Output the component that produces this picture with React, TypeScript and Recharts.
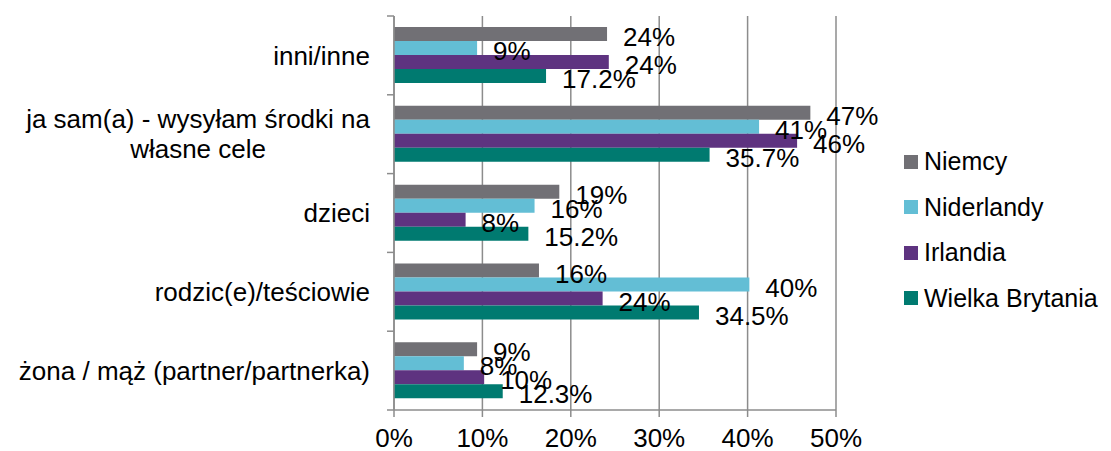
import React from "react";
import {
  BarChart,
  Bar,
  XAxis,
  YAxis,
  CartesianGrid,
  Legend,
  LabelList,
} from "recharts";

const categories = [
  "inni/inne",
  "ja sam(a) - wysyłam środki na własne cele",
  "dzieci",
  "rodzic(e)/teściowie",
  "żona / mąż (partner/partnerka)",
];
const niemcy = [24.1, 47.1, 18.7, 16.4, 9.4];
const niderlandy = [9.4, 41.3, 15.9, 40.2, 7.9];
const irlandia = [24.3, 45.6, 8.1, 23.6, 10.2];
const wielkaBrytania = [17.2, 35.7, 15.2, 34.5, 12.3];
const xTicks = [0, 10, 20, 30, 40, 50];

const seriesNames = ["Niemcy", "Niderlandy", "Irlandia", "Wielka Brytania"];
const colors = ["#717075", "#63bed5", "#5e3380", "#007a70"];

const data = categories.map((name, i) => ({
  name,
  Niemcy: niemcy[i],
  Niderlandy: niderlandy[i],
  Irlandia: irlandia[i],
  "Wielka Brytania": wielkaBrytania[i],
}));

const FONT = '"Liberation Sans", Arial, sans-serif';
const FS = 26;
const W = 1103;
const H = 443;
const AXIS_X = 386;
const PLOT_RIGHT = 828;
const TOP = 8;
const XAXIS_H = 41;
const BAND = (H - TOP - XAXIS_H) / categories.length;
const GRAY = "#8c8c8c";
const LEGEND_LEFT = 896;
const LEGEND_W = W - LEGEND_LEFT;

let ctx: CanvasRenderingContext2D | null = null;
const measure = (s: string) => {
  if (!ctx) {
    ctx = document.createElement("canvas").getContext("2d");
    if (ctx) ctx.font = `${FS}px ${FONT}`;
  }
  return ctx ? ctx.measureText(s).width : s.length * FS * 0.5;
};

const wrap = (s: string, max = 375) => {
  const words = s.split(" ");
  const lines: string[] = [];
  let cur = "";
  words.forEach((w) => {
    const next = cur ? cur + " " + w : w;
    if (cur && measure(next) > max) {
      lines.push(cur);
      cur = w;
    } else cur = next;
  });
  if (cur) lines.push(cur);
  return lines;
};

const CategoryTick = (props: any) => {
  const { y, payload, index } = props;
  const lines = wrap(payload.value);
  const maxW = Math.max(...lines.map(measure));
  const cx = AXIS_X - 24 - maxW / 2;
  const lh = 30;
  const y0 = y - ((lines.length - 1) * lh) / 2;
  return (
    <g>
      {lines.map((l, i) => (
        <text
          key={i}
          x={cx}
          y={y0 + i * lh}
          dy="0.35em"
          textAnchor="middle"
          fontSize={FS}
          fontFamily={FONT}
          fill="#000"
        >
          {l}
        </text>
      ))}
      <line x1={AXIS_X - 7} x2={AXIS_X} y1={y - BAND / 2} y2={y - BAND / 2} stroke={GRAY} strokeWidth={1.5} />
      {index === categories.length - 1 && (
        <line x1={AXIS_X - 7} x2={AXIS_X} y1={y + BAND / 2} y2={y + BAND / 2} stroke={GRAY} strokeWidth={1.5} />
      )}
    </g>
  );
};

const LegendContent = () => (
  <div style={{ fontFamily: FONT, fontSize: 25, color: "#000", whiteSpace: "nowrap" }}>
    {seriesNames.map((s, i) => (
      <div key={s} style={{ height: 45.5, display: "flex", alignItems: "center" }}>
        <span
          style={{
            width: 14,
            height: 14,
            flexShrink: 0,
            background: colors[i],
            marginRight: 6,
            display: "inline-block",
          }}
        />
        <span>{s}</span>
      </div>
    ))}
  </div>
);

const labelStyle = { fontSize: FS, fill: "#000", fontFamily: FONT };

export default function App() {
  return (
    <BarChart
      width={W}
      height={H}
      data={data}
      layout="vertical"
      margin={{ top: TOP, right: W - PLOT_RIGHT - LEGEND_W, left: 0, bottom: 0 }}
      barCategoryGap="14%"
      barGap={0}
    >
      <CartesianGrid horizontal={false} stroke={GRAY} strokeWidth={1.5} />
      <XAxis
        type="number"
        domain={[0, 50]}
        ticks={xTicks}
        tickFormatter={(v) => `${v}%`}
        height={XAXIS_H}
        tickSize={7}
        tickMargin={12}
        axisLine={{ stroke: GRAY, strokeWidth: 1.5 }}
        tickLine={{ stroke: GRAY, strokeWidth: 1.5 }}
        tick={{ fontSize: FS, fill: "#000", fontFamily: FONT }}
        interval={0}
      />
      <YAxis
        type="category"
        dataKey="name"
        width={AXIS_X}
        tickLine={false}
        axisLine={{ stroke: GRAY, strokeWidth: 1.5 }}
        tick={<CategoryTick />}
        interval={0}
      />
      <Legend
        layout="vertical"
        align="right"
        verticalAlign="middle"
        content={<LegendContent />}
        wrapperStyle={{ width: LEGEND_W, left: LEGEND_LEFT, top: 131 }}
      />
      {seriesNames.map((s, i) => (
        <Bar key={s} dataKey={s} fill={colors[i]} isAnimationActive={false}>
          <LabelList
            dataKey={s}
            position="right"
            offset={16}
            dy={3}
            style={labelStyle}
            formatter={(v: any) => (i === 3 ? `${Number(v).toFixed(1)}%` : `${Math.round(Number(v))}%`)}
          />
        </Bar>
      ))}
    </BarChart>
  );
}
